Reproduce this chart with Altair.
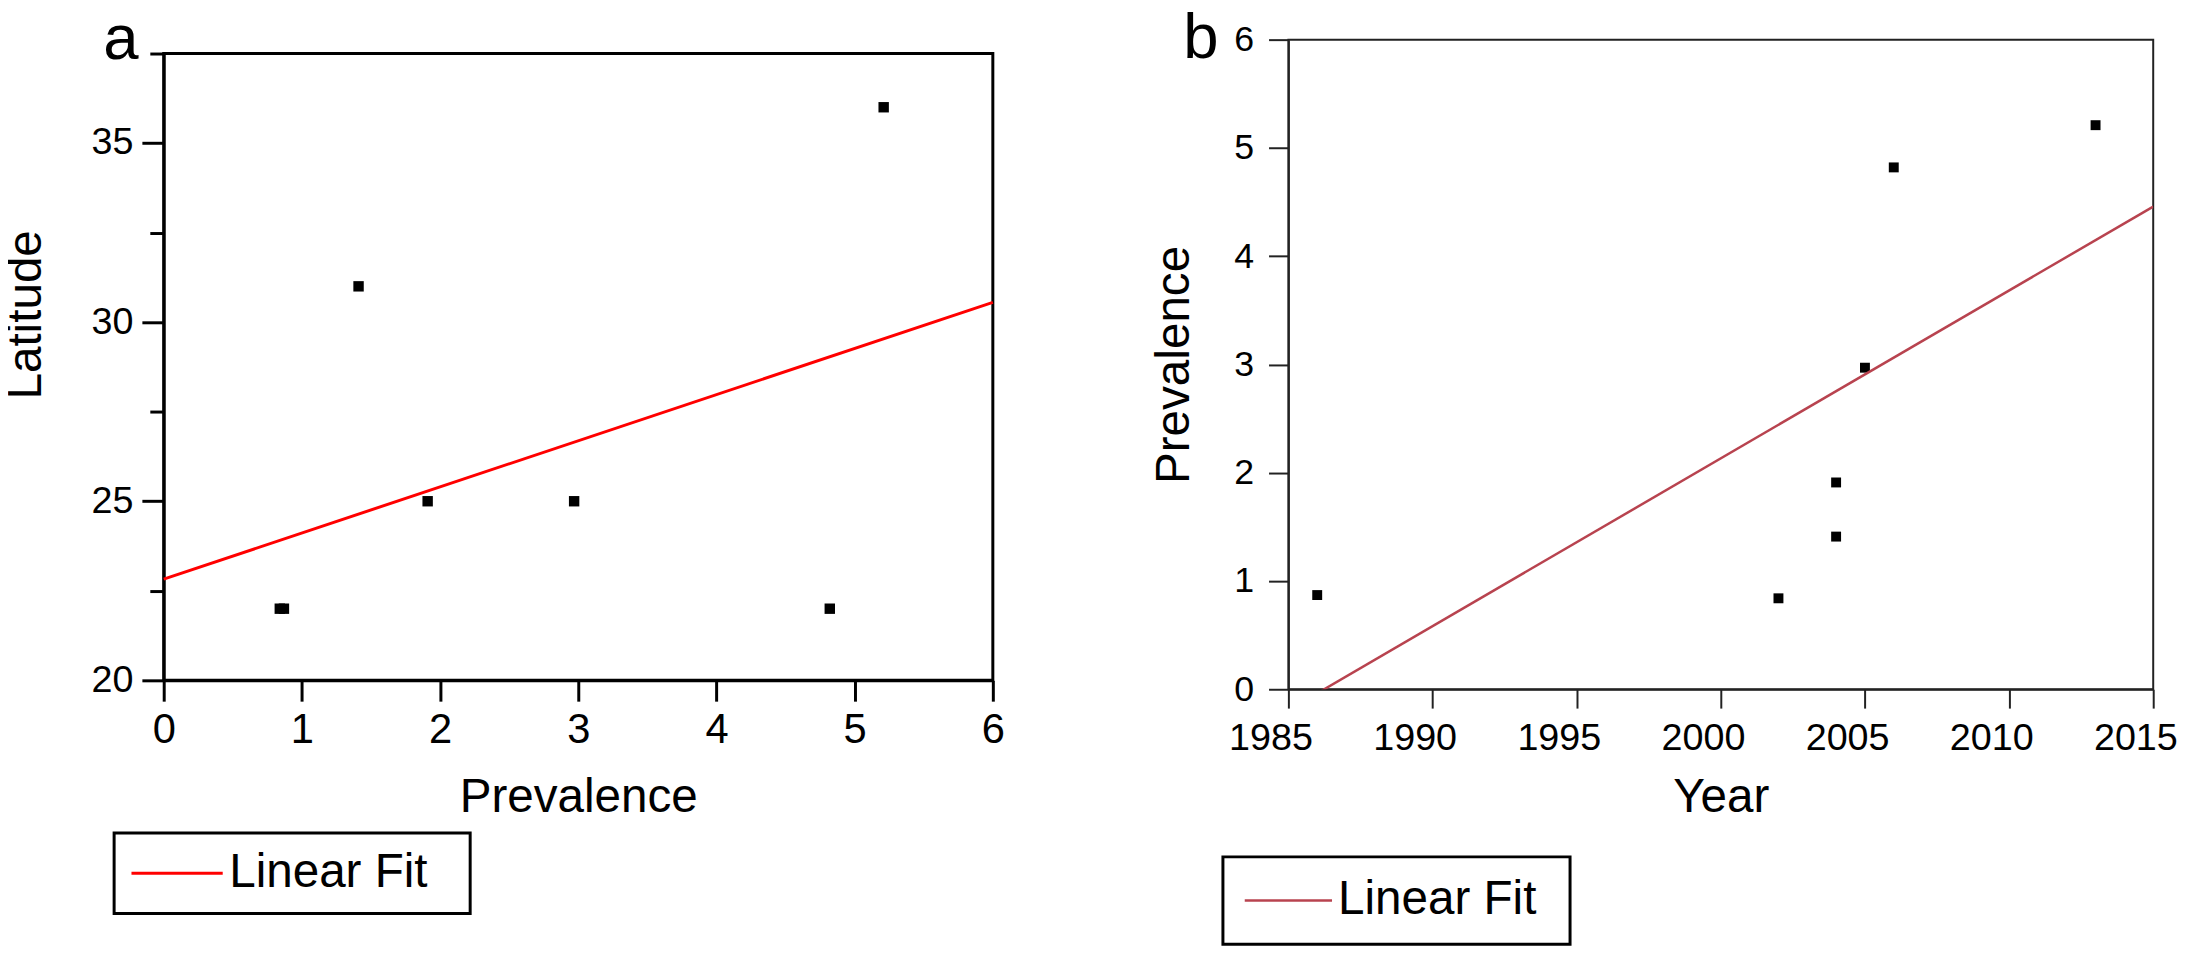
import altair as alt
import pandas as pd

# ---- data ----
prev_a = [0.84, 0.87, 1.41, 1.91, 2.97, 4.82, 5.21]
lat_a = [22, 22, 31, 25, 25, 22, 36]
year_b = [1986, 2002, 2004, 2004, 2005, 2006, 2013]
prev_b = [0.87, 0.84, 1.91, 1.41, 2.97, 4.82, 5.21]

a_x_ticks = [0, 1, 2, 3, 4, 5, 6]
a_y_major = [20, 25, 30, 35]
a_y_minor = [22.5, 27.5, 32.5, 37.5]
b_x_ticks = [1985, 1990, 1995, 2000, 2005, 2010, 2015]
b_y_ticks = [0, 1, 2, 3, 4, 5, 6]
series_name = ["Linear Fit"]

FONT = "Liberation Sans"

df_a = pd.DataFrame({"prevalence": prev_a, "latitude": lat_a})
df_b = pd.DataFrame({"year": year_b, "prev": prev_b})

# ---------------- panel a ----------------
xa = alt.X("prevalence:Q", scale=alt.Scale(domain=[0, 6], nice=False, zero=False),
           axis=alt.Axis(values=a_x_ticks, format="d", title="Prevalence", grid=False,
                         labelFlush=False,
                         tickSize=21, tickWidth=3, tickColor="black",
                         domainWidth=3, domainColor="black",
                         labelFontSize=42, labelPadding=9, labelColor="black",
                         titleFontSize=48, titlePadding=23, titleColor="black",
                         titleFontWeight="normal", labelFont=FONT, titleFont=FONT))
ya = alt.Y("latitude:Q", scale=alt.Scale(domain=[20, 37.5], nice=False, zero=False),
           axis=alt.Axis(values=a_y_major, format="d", title="Latitude", grid=False,
                         orient="left", labelFlush=False,
                         tickSize=22, tickWidth=3, tickColor="black",
                         domainWidth=3, domainColor="black",
                         labelFontSize=38, labelPadding=9, labelColor="black",
                         titleFontSize=48, titlePadding=41, titleColor="black",
                         titleY=263,
                         titleFontWeight="normal", labelFont=FONT, titleFont=FONT))

pts_a = alt.Chart(df_a).mark_square(size=110, color="black", opacity=1).encode(x=xa, y=ya)

fit_a = (
    alt.Chart(df_a)
    .transform_regression("prevalence", "latitude", extent=[0, 6])
    .transform_calculate(series="'Linear Fit'")
    .mark_line(strokeWidth=3)
    .encode(
        x=alt.X("prevalence:Q"),
        y=alt.Y("latitude:Q", axis=None),
        color=alt.Color("series:N",
                        scale=alt.Scale(domain=series_name, range=["#ff0000"]),
                        legend=alt.Legend(title=None, orient="none", legendX=-50, legendY=835,
                                          symbolType="M-1,0H3", symbolSize=2116,
                                          symbolStrokeWidth=3, labelFontSize=48,
                                          labelFont=FONT, labelColor="black",
                                          labelOffset=51, padding=16, strokeColor="black",
                                          labelLimit=800,
                                          labelExpr="datum.label + '\u00a0\u00a0\u200b'")),
    )
)

minor_a = alt.Chart(df_a).mark_point(opacity=0).encode(
    y=alt.Y("latitude:Q",
            axis=alt.Axis(values=a_y_minor, orient="left", labels=False, domain=False,
                          title=None, grid=False, tickSize=14, tickWidth=3,
                          tickColor="black"))
)

chart_a = (
    alt.layer(pts_a, fit_a, minor_a)
    .resolve_axis(y="independent")
    .properties(width=836, height=632,
                view=alt.ViewBackground(stroke="black", strokeWidth=3),
                title=alt.TitleParams("a", anchor="start", frame="group", dx=-61, offset=-20,
                                      fontSize=64, fontWeight="normal", font=FONT,
                                      color="black"))
)

# ---------------- panel b ----------------
xb = alt.X("year:Q", scale=alt.Scale(domain=[1985, 2015], nice=False, zero=False),
           axis=alt.Axis(values=b_x_ticks, format="d", title="Year", grid=False,
                         labelFlush=False,
                         tickSize=19, tickWidth=2, tickColor="#222",
                         domainWidth=2, domainColor="#222",
                         labelFontSize=38, labelPadding=12, labelOffset=-18,
                         labelColor="black", titleFontSize=48, titlePadding=16,
                         titleColor="black", titleFontWeight="normal",
                         labelFont=FONT, titleFont=FONT))
yb = alt.Y("prev:Q", scale=alt.Scale(domain=[0, 6], nice=False, zero=False),
           axis=alt.Axis(values=b_y_ticks, format="d", title="Prevalence", grid=False,
                         labelFlush=False,
                         tickSize=20, tickWidth=2, tickColor="#222",
                         domainWidth=2, domainColor="#222",
                         labelFontSize=36, labelPadding=15, labelColor="black",
                         titleFontSize=48, titlePadding=36, titleColor="black",
                         titleFontWeight="normal", labelFont=FONT, titleFont=FONT))

pts_b = alt.Chart(df_b).mark_square(size=100, color="black", opacity=1).encode(x=xb, y=yb)

fit_b = (
    alt.Chart(df_b)
    .transform_regression("year", "prev", extent=[1985, 2015])
    .transform_calculate(series="'Linear Fit'")
    .mark_line(strokeWidth=2.5, clip=True)
    .encode(
        x="year:Q",
        y="prev:Q",
        color=alt.Color("series:N",
                        scale=alt.Scale(domain=series_name, range=["#b8434f"]),
                        legend=alt.Legend(title=None, orient="none", legendX=-66, legendY=859,
                                          symbolType="M-1,0H3", symbolSize=1936,
                                          symbolStrokeWidth=2.5, symbolStrokeColor="#ff0000",
                                          labelFontSize=48,
                                          labelFont=FONT, labelColor="black",
                                          labelOffset=48, padding=20, strokeColor="black",
                                          labelLimit=800,
                                          labelExpr="datum.label + '\u00a0\u200b'")),
    )
)

chart_b = (
    alt.layer(pts_b, fit_b)
    .properties(width=872, height=655,
                view=alt.ViewBackground(stroke="#222", strokeWidth=2),
                title=alt.TitleParams("b", anchor="start", frame="group", dx=-106, offset=-50,
                                      fontSize=64, fontWeight="normal", font=FONT,
                                      color="black"))
)


def spacer():
    # tiny invisible row so each panel is placed by its own top extent
    return (
        alt.Chart(df_a)
        .mark_point(size=0, opacity=0, strokeWidth=0)
        .encode(x=alt.value(0), y=alt.value(0))
        .properties(width=1, height=1, view=alt.ViewBackground(stroke="transparent"))
    )


chart = (
    alt.hconcat(
        alt.vconcat(spacer(), chart_a, spacing=0),
        alt.vconcat(spacer(), chart_b, spacing=0),
        spacing=143,
    )
    .resolve_scale(color="independent")
    .resolve_legend(color="independent")
    .properties(padding={"left": -7, "top": -8, "right": 0, "bottom": 0},
                background="white")
    .configure_legend(strokeWidth=3)
)

chart.save("out.html", embed_options={"renderer": "svg", "actions": False})
